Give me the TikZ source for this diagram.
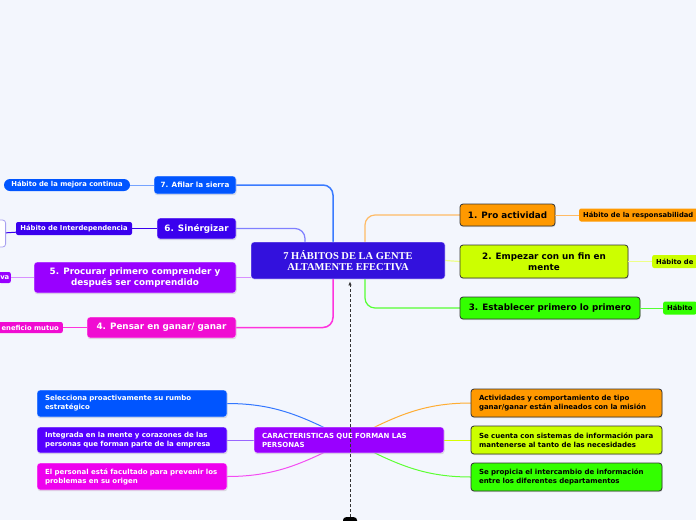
\documentclass[tikz,border=0pt]{standalone}
\usepackage{fontspec}
\setmainfont{DejaVu Sans}
\newfontfamily\serifb{Liberation Serif}
\usetikzlibrary{shadows,arrows.meta}
\definecolor{bgc}{HTML}{F3F6FD}
\definecolor{cc}{HTML}{3311DD}
\definecolor{c7}{HTML}{0055FF}
\definecolor{c6}{HTML}{3A00EE}
\definecolor{c5}{HTML}{9900FF}
\definecolor{c4}{HTML}{F00CD2}
\definecolor{c1}{HTML}{FF9900}
\definecolor{c2}{HTML}{CCFF00}
\definecolor{c3}{HTML}{33FF00}
\definecolor{cl1}{HTML}{0055FF}
\definecolor{cl2}{HTML}{5500FF}
\definecolor{cl3}{HTML}{EE00EE}
\definecolor{k7}{HTML}{3A7BFF}
\definecolor{k6}{HTML}{8080FF}
\definecolor{k5}{HTML}{D890FF}
\definecolor{k4}{HTML}{FF33DD}
\definecolor{k1}{HTML}{FFBB66}
\definecolor{k2}{HTML}{EEFF88}
\definecolor{k3}{HTML}{55FF33}
\definecolor{lav}{HTML}{A8A0F0}
\begin{document}
\begin{tikzpicture}[x=1pt,y=-1pt,
  box/.style={rounded corners=3pt, inner sep=0pt, align=center,
    font=\bfseries\fontsize{8.8}{11}\selectfont},
  lbox/.style={box, draw=white, draw opacity=0.6, line width=0.8pt, text=white,
    drop shadow={shadow xshift=0.5pt, shadow yshift=-1.2pt, opacity=0.25}},
  rbox/.style={box, draw=black!80, line width=0.8pt, text=black,
    drop shadow={shadow xshift=0.5pt, shadow yshift=-1.2pt, opacity=0.25}},
  sub/.style={rounded corners=2pt, inner xsep=4pt, inner ysep=0pt, minimum height=13pt,
    font=\bfseries\fontsize{6.8}{8}\selectfont},
  cbox/.style={rounded corners=3pt, inner xsep=8pt, inner ysep=0pt, align=left,
    text width=174pt, font=\bfseries\fontsize{7}{9}\selectfont,
    drop shadow={shadow xshift=0.5pt, shadow yshift=-1.2pt, opacity=0.25}},
  con/.style={line width=1.2pt, rounded corners=10pt},
  thin/.style={line width=1pt}]
\useasboundingbox (0,0) rectangle (696,520);
\fill[bgc] (0,0) rectangle (696,520);
\clip (0,0) rectangle (696,520);

\coordinate (cC) at (348,260.5);
\coordinate (p1) at (507.5,215);
\coordinate (p2) at (544,261.5);
\coordinate (p3) at (550,308);
\coordinate (p7) at (195,185);
\coordinate (p6) at (196.5,228.5);
\coordinate (p5) at (135,277.5);
\coordinate (p4) at (161.5,327.5);
\coordinate (pb) at (349,440);

\path (cC) node[minimum width=194pt, minimum height=37pt, inner sep=0pt] (c0) {};
\path (p1) node[minimum width=95pt, minimum height=22pt, inner sep=0pt] (n1a) {};
\path (p2) node[minimum width=168pt, minimum height=33pt, inner sep=0pt] (n2a) {};
\path (p3) node[minimum width=180pt, minimum height=22pt, inner sep=0pt] (n3a) {};
\path (p7) node[minimum width=82pt, minimum height=18pt, inner sep=0pt] (n7a) {};
\path (p6) node[minimum width=79pt, minimum height=21pt, inner sep=0pt] (n6a) {};
\path (p5) node[minimum width=202pt, minimum height=31pt, inner sep=0pt] (n5a) {};
\path (p4) node[minimum width=149pt, minimum height=21pt, inner sep=0pt] (n4a) {};
\path (pb) node[minimum width=190pt, minimum height=26pt, inner sep=0pt] (ba) {};

\draw[con, k1] ([xshift=17pt]c0.north) |- (n1a.west);
\draw[con, k2] (c0.east) -- (n2a.west);
\draw[con, k3] ([xshift=17pt]c0.south) |- (n3a.west);
\draw[con, k7, line width=1.5pt] ([xshift=-15pt]c0.north) |- (n7a.east);
\draw[con, k6] ([xshift=-43pt]c0.north) |- (n6a.east);
\draw[con, k5] (n5a.east) -- (n5a.east -| c0.west);
\draw[con, k4, line width=1.5pt] ([xshift=-15pt]c0.south) |- (n4a.east);

\path (132,403.5) node[minimum width=190pt, minimum height=27pt, inner sep=0pt] (l1a) {};
\path (132,440) node[minimum width=190pt, minimum height=26pt, inner sep=0pt] (l2a) {};
\path (132,476.5) node[minimum width=190pt, minimum height=27pt, inner sep=0pt] (l3a) {};
\path (566.5,403) node[minimum width=191pt, minimum height=28pt, inner sep=0pt] (r1a) {};
\path (566.5,440) node[minimum width=191pt, minimum height=28pt, inner sep=0pt] (r2a) {};
\path (566.5,477) node[minimum width=191pt, minimum height=28pt, inner sep=0pt] (r3a) {};
\draw[thin, c7!80] (l1a.east) to[out=0, in=153] (ba.center);
\draw[thin, cl2!60] (l2a.east) -- (ba.center);
\draw[thin, cl3!70] (l3a.east) to[out=0, in=207] (ba.center);
\draw[thin, c1!80] (r1a.west) to[out=180, in=27] (ba.center);
\draw[thin, c2!80!yellow] (r2a.west) -- (ba.center);
\draw[thin, c3!80] (r3a.west) to[out=180, in=-27] (ba.center);

\node[box, fill=cc, draw=white, draw opacity=0.5, line width=0.8pt, text=white,
  font=\serifb\bfseries\fontsize{10.5}{10.8}\selectfont,
  minimum width=194pt, minimum height=37pt] (c) at (cC) {7 HÁBITOS DE LA GENTE\\ALTAMENTE EFECTIVA};

\node[rbox, fill=c1, minimum width=95pt, minimum height=22pt] (n1) at (p1) {1. Pro actividad};
\node[rbox, fill=c2, minimum width=168pt, minimum height=33pt] (n2) at (p2) {2. Empezar con un fin en\\mente};
\node[rbox, fill=c3, minimum width=180pt, minimum height=22pt] (n3) at (p3) {3. Establecer primero lo primero};

\node[lbox, fill=c7, minimum width=82pt, minimum height=18pt, font=\bfseries\fontsize{7.2}{9}\selectfont] (n7) at (p7) {7. Afilar la sierra};
\node[lbox, fill=c6, minimum width=79pt, minimum height=21pt] (n6) at (p6) {6. Sinérgizar};
\node[lbox, fill=c5, minimum width=202pt, minimum height=31pt] (n5) at (p5) {5. Procurar primero comprender y\\después ser comprendido};
\node[lbox, fill=c4, minimum width=149pt, minimum height=21pt] (n4) at (p4) {4. Pensar en ganar/ ganar};

\node[sub, fill=c1, anchor=west] (s1) at (579,215) {Hábito de la responsabilidad};
\node[sub, fill=c2, anchor=west] (s2) at (652,261.5) {Hábito de};
\node[sub, fill=c3, anchor=west] (s3) at (663,308) {Hábito};
\draw[thin, k1] (n1) -- (s1);
\draw[thin, k2] (n2) -- (s2);
\draw[thin, k3] (n3) -- (s3);

\node[sub, fill=c7, text=white, rounded corners=6pt, minimum height=12pt, minimum width=126pt] (s7) at (67,185) {Hábito de la mejora continua};
\node[sub, fill=c6, text=white, minimum width=116pt] (s6) at (74,228.5) {Hábito de Interdependencia};
\node[sub, fill=c5, text=white, anchor=east, minimum height=11pt, inner xsep=1.5pt] (s5) at (11,277.5) {va};
\node[sub, fill=c4, text=white, anchor=east, minimum height=11pt] (s4) at (63,327.5) {eneficio mutuo};
\node[fill=white, draw=lav, line width=0.8pt, rounded corners=3pt, minimum width=20pt, minimum height=27pt, anchor=east] (fb) at (6,233.5) {};
\draw[thin, k7!70] (n7) -- (s7);
\draw[thin, c6] (n6) -- (s6);
\draw[thin, c6] (s6) -- (fb);
\draw[thin, k5] (n5) -- (s5);
\draw[thin, k4] (n4) -- (s4);

\node[cbox, fill=c5, draw=white, draw opacity=0.6, line width=0.8pt, text=white, minimum height=26pt] (b) at (pb) {CARACTERISTICAS QUE FORMAN LAS\\PERSONAS};
\node[cbox, fill=cl1, draw=white, draw opacity=0.6, line width=0.8pt, text=white, minimum height=27pt] (l1) at (l1a) {Selecciona proactivamente su rumbo\\estratégico};
\node[cbox, fill=cl2, draw=white, draw opacity=0.6, line width=0.8pt, text=white, minimum height=26pt] (l2) at (l2a) {Integrada en la mente y corazones de las\\personas que forman parte de la empresa};
\node[cbox, fill=cl3, draw=white, draw opacity=0.6, line width=0.8pt, text=white, minimum height=27pt] (l3) at (l3a) {El personal está facultado para prevenir los\\problemas en su origen};
\node[cbox, fill=c1, draw=black!80, line width=0.8pt, text=black, text width=175pt, minimum height=28pt] (r1) at (r1a) {Actividades y comportamiento de tipo\\ganar/ganar están alineados con la misión};
\node[cbox, fill=c2, draw=black!80, line width=0.8pt, text=black, text width=175pt, minimum height=28pt] (r2) at (r2a) {Se cuenta con sistemas de información para\\mantenerse al tanto de las necesidades};
\node[cbox, fill=c3, draw=black!80, line width=0.8pt, text=black, text width=175pt, minimum height=28pt] (r3) at (r3a) {Se propicia el intercambio de información\\entre los diferentes departamentos};

\node[fill=black, rounded corners=3pt, minimum width=14pt, minimum height=14pt, inner sep=0pt, anchor=north] (bk) at (350,517) {};
\draw[gray!40!black, line width=0.8pt, dash pattern=on 3pt off 2pt, -{Latex[length=4pt,width=3.5pt]}, shorten >=2pt] (bk.north) -- (bk.north |- c.south);
\end{tikzpicture}
\end{document}
